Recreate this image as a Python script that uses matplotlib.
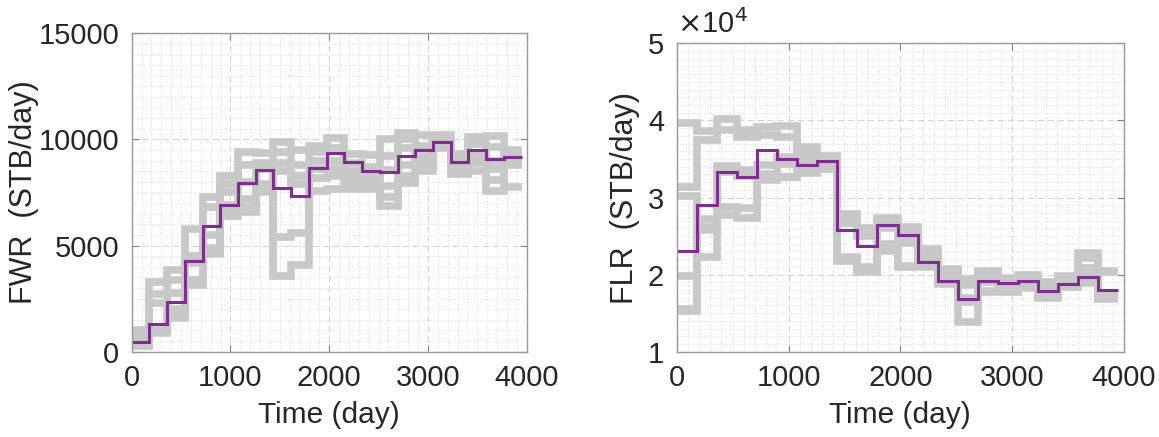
import matplotlib
matplotlib.use("Agg")
import matplotlib.pyplot as plt
from matplotlib.ticker import MultipleLocator, FuncFormatter

plt.rcParams['font.family'] = ['Liberation Sans', 'DejaVu Sans']

# report step edges (day)
t_edges = [0, 180, 359, 539, 718, 898, 1077, 1257, 1436, 1616, 1795, 1975,
           2154, 2334, 2513, 2693, 2872, 3052, 3231, 3411, 3590, 3770, 3949]

# FWR (STB/day) - ensemble members
fwr_ens1 = [1000, 3300, 3850, 5800, 7300, 8300, 9400, 9350, 9900, 9500, 9700,
            10050, 9300, 9250, 10000, 10300, 10200, 10200, 9300, 10100, 10150, 9500]
fwr_ens2 = [900, 2700, 3400, 4500, 6800, 7900, 8800, 8900, 9400, 8800, 9400,
            9600, 8900, 8700, 9200, 10000, 9700, 10050, 9100, 9800, 9650, 9300]
fwr_ens3 = [700, 2300, 2750, 4200, 5500, 7500, 8000, 8600, 8900, 8300, 9000,
            9000, 8500, 8300, 8550, 9600, 9200, 9950, 9000, 9300, 9000, 9100]
fwr_ens4 = [350, 1000, 2000, 3400, 4900, 6900, 7200, 7900, 8500, 7900, 8600,
            8600, 8200, 8050, 7800, 8800, 8900, 9800, 8800, 9100, 8600, 9000]
fwr_ens5 = [300, 950, 1700, 3300, 4700, 6600, 6800, 7600, 5400, 5600, 8200,
            8300, 8000, 7800, 7300, 8300, 8800, 9700, 8600, 8900, 8100, 8800]
fwr_ens6 = [250, 900, 1600, 3150, 4600, 6400, 6600, 7500, 3550, 4100, 7550,
            7650, 7650, 7650, 6850, 7950, 8500, 9600, 8350, 8500, 7550, 7750]
fwr_ref = [480, 1290, 2360, 4260, 5900, 6920, 7930, 8570, 7700, 7340, 8650,
           9360, 8960, 8520, 8480, 9200, 9480, 9880, 8960, 9480, 9070, 9150]

# FLR (STB/day) - ensemble members
flr_ens1 = [39660, 38600, 40200, 38800, 39200, 39300, 36500, 35400, 27900, 26000, 27300,
            26200, 23300, 20700, 19400, 20500, 19600, 19900, 19000, 19800, 22800, 20500]
flr_ens2 = [31350, 37500, 38700, 37800, 38100, 37900, 35600, 35000, 27000, 25500, 26800,
            25400, 22800, 20300, 18700, 20200, 19300, 19600, 18500, 19500, 22200, 20300]
flr_ens3 = [30200, 27200, 34100, 33600, 34200, 35300, 34800, 34700, 26700, 25000, 26000,
            24800, 22000, 19800, 17000, 19300, 19000, 19300, 18000, 19000, 20800, 17300]
flr_ens4 = [19870, 26200, 33300, 32800, 33100, 34300, 34100, 34300, 22300, 21000, 24000,
            24100, 21500, 19500, 16800, 19000, 18400, 19000, 17500, 18800, 20000, 17100]
flr_ens5 = [15600, 25800, 28800, 28700, 32400, 32700, 33500, 34000, 22000, 20600, 23200,
            21100, 21100, 19000, 16500, 17900, 18000, 18500, 17200, 18500, 19200, 17000]
flr_ens6 = [15300, 22300, 27700, 27400, 32300, 32600, 33200, 33700, 21800, 20400, 23000,
            21000, 21000, 18800, 13800, 17800, 17800, 18300, 17000, 18400, 18900, 16900]
flr_ref = [23080, 29050, 33300, 32650, 36200, 35030, 34250, 34680, 25800, 23730, 26460,
           25160, 21610, 19220, 16800, 19200, 18880, 19220, 17920, 18820, 19660, 17960]

fwr_ens = [fwr_ens1, fwr_ens2, fwr_ens3, fwr_ens4, fwr_ens5, fwr_ens6]
flr_ens = [flr_ens1, flr_ens2, flr_ens3, flr_ens4, flr_ens5, flr_ens6]

gray = '#c8c8c8'
purple = '#7e2f8e'
txt = '#262626'

fig = plt.figure(figsize=(11.59, 4.37), dpi=100)
ax1 = fig.add_axes([0.1136, 0.1952, 0.3408, 0.7286])
ax2 = fig.add_axes([0.5839, 0.1952, 0.3859, 0.7057])


def style(ax, ymin, ymax, ymajor, yminor):
    ax.set_xlim(0, 4000)
    ax.set_ylim(ymin, ymax)
    ax.xaxis.set_major_locator(MultipleLocator(1000))
    ax.xaxis.set_minor_locator(MultipleLocator(100))
    ax.yaxis.set_major_locator(MultipleLocator(ymajor))
    ax.yaxis.set_minor_locator(MultipleLocator(yminor))
    ax.grid(which='major', color='#d4d4d4', linestyle=(0, (6, 3)), linewidth=0.8)
    ax.grid(which='minor', color='#dedede', linestyle=(0, (1, 1.5)), linewidth=0.8)
    ax.set_axisbelow(True)
    ax.tick_params(which='major', direction='in', length=5, width=0.8, top=True, right=True,
                   labelsize=21, colors='#808080', labelcolor=txt, pad=9)
    ax.tick_params(which='minor', length=0)
    for sp in ax.spines.values():
        sp.set_color('#999999')
        sp.set_linewidth(1.0)
    ax.set_xlabel('Time (day)', fontsize=21.5, color=txt, labelpad=6)


for vals in fwr_ens:
    ax1.stairs(vals, t_edges, baseline=None, color=gray, linewidth=5.5)
ax1.stairs(fwr_ref, t_edges, baseline=None, color=purple, linewidth=2.2)
style(ax1, 0, 15000, 5000, 500)
ax1.set_ylabel('FWR  (STB/day)', fontsize=22, color=txt)
ax1.yaxis.set_label_coords(-0.235, 0.5)

for vals in flr_ens:
    ax2.stairs(vals, t_edges, baseline=None, color=gray, linewidth=5.5)
ax2.stairs(flr_ref, t_edges, baseline=None, color=purple, linewidth=2.2)
style(ax2, 10000, 50000, 10000, 1000)
ax2.yaxis.set_major_formatter(FuncFormatter(lambda v, p: '%g' % (v / 1e4)))
ax2.set_ylabel('FLR  (STB/day)', fontsize=22, color=txt)
ax2.yaxis.set_label_coords(-0.082, 0.5)
ax2.text(0.0, 1.015, r'$\times$10$^4$', transform=ax2.transAxes, fontsize=21,
         color=txt, ha='left', va='bottom')

fig.savefig('out.png', dpi=100)
